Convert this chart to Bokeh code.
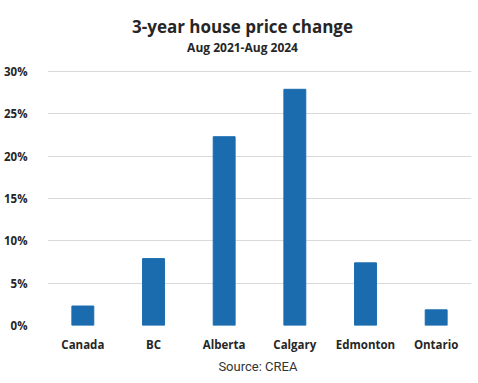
from bokeh.plotting import figure
from bokeh.models import FactorRange, Range1d, FixedTicker, Label, Title
from bokeh.embed import file_html
from bokeh.resources import INLINE

categories = ["Canada", "BC", "Alberta", "Calgary", "Edmonton", "Ontario"]
values = [2.3, 7.9, 22.3, 27.9, 7.4, 1.85]
y_ticks = [0, 5, 10, 15, 20, 25, 30]
y_tick_labels = ["0%", "5%", "10%", "15%", "20%", "25%", "30%"]
title_text = "3-year house price change"
subtitle_text = "Aug 2021-Aug 2024"
source_text = "Source:  CREA"

FONT = "Open Sans"
BAR = "#1b6caf"
TXT = "#262626"

p = figure(width=478, height=383, output_backend="svg", toolbar_location=None,
           x_range=FactorRange(factors=categories, range_padding=0),
           y_range=Range1d(0, 38.39),
           min_border_left=47, min_border_right=7,
           min_border_top=0, min_border_bottom=58)
p.outline_line_color = None
p.background_fill_color = "white"
p.border_fill_color = "white"

p.vbar(x=categories, top=values, width=0.31, color=BAR)

p.xgrid.grid_line_color = None
p.ygrid.grid_line_color = "#d9d9d9"
p.ygrid.grid_line_width = 1

p.yaxis.ticker = FixedTicker(ticks=y_ticks)
p.yaxis.major_label_overrides = {t: l for t, l in zip(y_ticks, y_tick_labels)}
for ax in (p.xaxis, p.yaxis):
    ax.axis_line_color = None
    ax.major_tick_line_color = None
    ax.minor_tick_line_color = None
    ax.major_label_text_font = FONT
    ax.major_label_text_font_style = "bold"
    ax.major_label_text_color = TXT
    ax.major_label_text_font_size = "11.5px"
p.yaxis.major_label_standoff = 14
p.xaxis.major_label_standoff = 5

p.add_layout(Label(x=2.76, y=35.3, text=title_text, text_align="center", text_baseline="middle",
                   text_font=FONT, text_font_style="bold", text_font_size="17px",
                   text_color=TXT))
p.add_layout(Label(x=2.76, y=32.8, text=subtitle_text, text_align="center", text_baseline="middle",
                   text_font=FONT, text_font_style="bold", text_font_size="12px",
                   text_color=TXT))
p.add_layout(Title(text=source_text, align="center", offset=-38, standoff=4,
                   text_font="Roboto", text_font_style="normal", text_font_size="13px",
                   text_color="#333333"), "below")

open("out.html", "w").write(file_html(p, INLINE))
